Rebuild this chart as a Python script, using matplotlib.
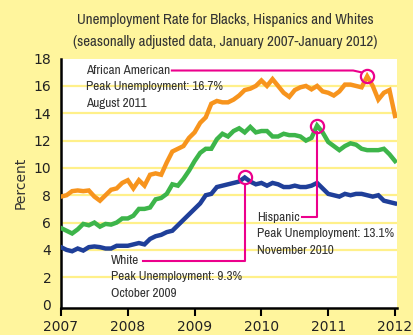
import numpy as np
import matplotlib
matplotlib.use("Agg")
import matplotlib.pyplot as plt

# monthly values, Jan 2007 .. Jan 2012 (61 months)
black = [7.9, 8.0, 8.3, 8.35, 8.3, 8.35, 7.9, 7.6, 8.0, 8.4, 8.5, 8.9,
         9.1, 8.5, 9.1, 8.7, 9.5, 9.6, 9.5, 10.4, 11.2, 11.4, 11.6, 12.2,
         12.6, 13.3, 13.7, 14.7, 14.9, 14.8, 14.8, 15.0, 15.3, 15.7, 15.8, 16.0,
         16.4, 16.0, 16.5, 16.0, 15.5, 15.2, 15.7, 15.9, 16.0, 15.75, 16.0, 15.6,
         15.5, 15.3, 15.6, 16.1, 16.1, 16.0, 15.9, 16.7, 16.0, 15.0, 15.5, 15.7,
         13.8]
hispanic = [5.6, 5.4, 5.2, 5.5, 5.9, 5.8, 6.0, 5.7, 5.9, 5.85, 6.0, 6.3,
            6.3, 6.5, 7.0, 7.0, 7.1, 7.7, 7.8, 8.1, 8.8, 8.7, 9.2, 9.8,
            10.5, 11.1, 11.4, 11.4, 12.1, 12.5, 12.3, 12.7, 12.9, 12.6, 13.0, 12.6,
            12.7, 12.7, 12.3, 12.3, 12.5, 12.4, 12.4, 12.3, 12.0, 12.2, 13.1, 12.6,
            11.9, 11.6, 11.3, 11.6, 11.8, 11.7, 11.4, 11.3, 11.3, 11.3, 11.4, 11.0,
            10.5]
white = [4.2, 4.0, 3.9, 4.1, 3.95, 4.2, 4.25, 4.2, 4.1, 4.1, 4.3, 4.3,
         4.3, 4.4, 4.5, 4.4, 4.8, 5.0, 5.1, 5.3, 5.4, 5.8, 6.2, 6.6,
         7.0, 7.4, 8.0, 8.1, 8.6, 8.7, 8.8, 8.9, 9.0, 9.3, 9.0, 8.8,
         8.9, 8.7, 8.9, 8.8, 8.6, 8.6, 8.7, 8.6, 8.6, 8.7, 8.9, 8.5,
         8.1, 8.0, 7.9, 8.1, 8.0, 8.1, 8.1, 8.0, 7.9, 8.0, 7.6, 7.5,
         7.4]
years = [2007, 2008, 2009, 2010, 2011, 2012]
yticks = [0, 2, 4, 6, 8, 10, 12, 14, 16, 18]

labels = {
    "black": ["African American", "Peak Unemployment: 16.7%", "August 2011"],
    "hispanic": ["Hispanic", "Peak Unemployment: 13.1%", "November 2010"],
    "white": ["White", "Peak Unemployment: 9.3%", "October 2009"],
}

t = 2007 + np.arange(len(black)) / 12.0

bg = '#FFF59D'
pink = '#EC008C'
txtc = '#333333'
narrow = ['Archivo Narrow', 'DejaVu Sans']

fig = plt.figure(figsize=(4.14, 3.35), dpi=100, facecolor=bg)
ax = fig.add_axes([0.1473, 0.082, 0.959 - 0.1473, 0.825 - 0.082])
ax.set_facecolor('white')

for v in yticks[1:-1]:
    ax.axhline(v, color='#FFF08A', lw=1.6, zorder=1)

ax.plot(t, black, color='#F7941D', lw=3.2, zorder=3, solid_joinstyle='miter')
ax.plot(t, hispanic, color='#3DB54A', lw=3.2, zorder=3, solid_joinstyle='miter')
ax.plot(t, white, color='#1F3F99', lw=3.2, zorder=3, solid_joinstyle='miter')

ax.set_xlim(2007, 2012.03)
ax.set_ylim(-0.22, 17.95)
ax.set_xticks(years)
ax.set_xticklabels([str(y) for y in years], fontsize=10, color='#222222')
ax.set_yticks(yticks)
ax.set_yticklabels([str(v) for v in yticks], fontsize=10, color='#222222')
ax.tick_params(axis='y', length=0, pad=7)
ax.tick_params(axis='x', length=6, width=1.5, direction='out', pad=3)
for s in ['top', 'right']:
    ax.spines[s].set_visible(False)
ax.spines['left'].set_linewidth(1.8)
ax.spines['bottom'].set_linewidth(1.8)
ax.set_ylabel('Percent', fontsize=10, color=txtc, labelpad=4)

fig.text(0.5435, 0.940, 'Unemployment Rate for Blacks, Hispanics and Whites',
         ha='center', va='center', fontsize=10.8, color=txtc, family=narrow)
fig.text(0.5435, 0.875, '(seasonally adjusted data, January 2007-January 2012)',
         ha='center', va='center', fontsize=10.8, color=txtc, family=narrow)

r = 0.47  # circle radius in data units (y)


def peak(series):
    i = int(np.argmax(series))
    return t[i], series[i]


def block(x, y, lines):
    for k, s in enumerate(lines):
        ax.text(x, y - k * 1.2, s, ha='left', va='center', fontsize=9.5,
                color=txtc, family=narrow, zorder=5)


# African American
px, py = peak(black)
ax.plot(px, py, 'o', ms=9.5, mfc='none', mec=pink, mew=1.6, zorder=6)
block(2007.374, 17.13, labels["black"])
ax.plot([2008.66, px - 0.21, px - 0.09], [17.13, 17.13, py + 0.3],
        color=pink, lw=1.5, zorder=4)

# Hispanic
px, py = peak(hispanic)
ax.plot(px, py, 'o', ms=9.5, mfc='none', mec=pink, mew=1.6, zorder=6)
block(2009.934, 6.39, labels["hispanic"])
ax.plot([2010.61, px, px], [6.44, 6.44, py - r], color=pink, lw=1.5, zorder=4)

# White
px, py = peak(white)
ax.plot(px, py, 'o', ms=9.5, mfc='none', mec=pink, mew=1.6, zorder=6)
block(2007.75, 3.24, labels["white"])
ax.plot([2008.23, px, px], [3.16, 3.16, py - r], color=pink, lw=1.5, zorder=4)

fig.savefig('out.png', dpi=100, facecolor=bg)
